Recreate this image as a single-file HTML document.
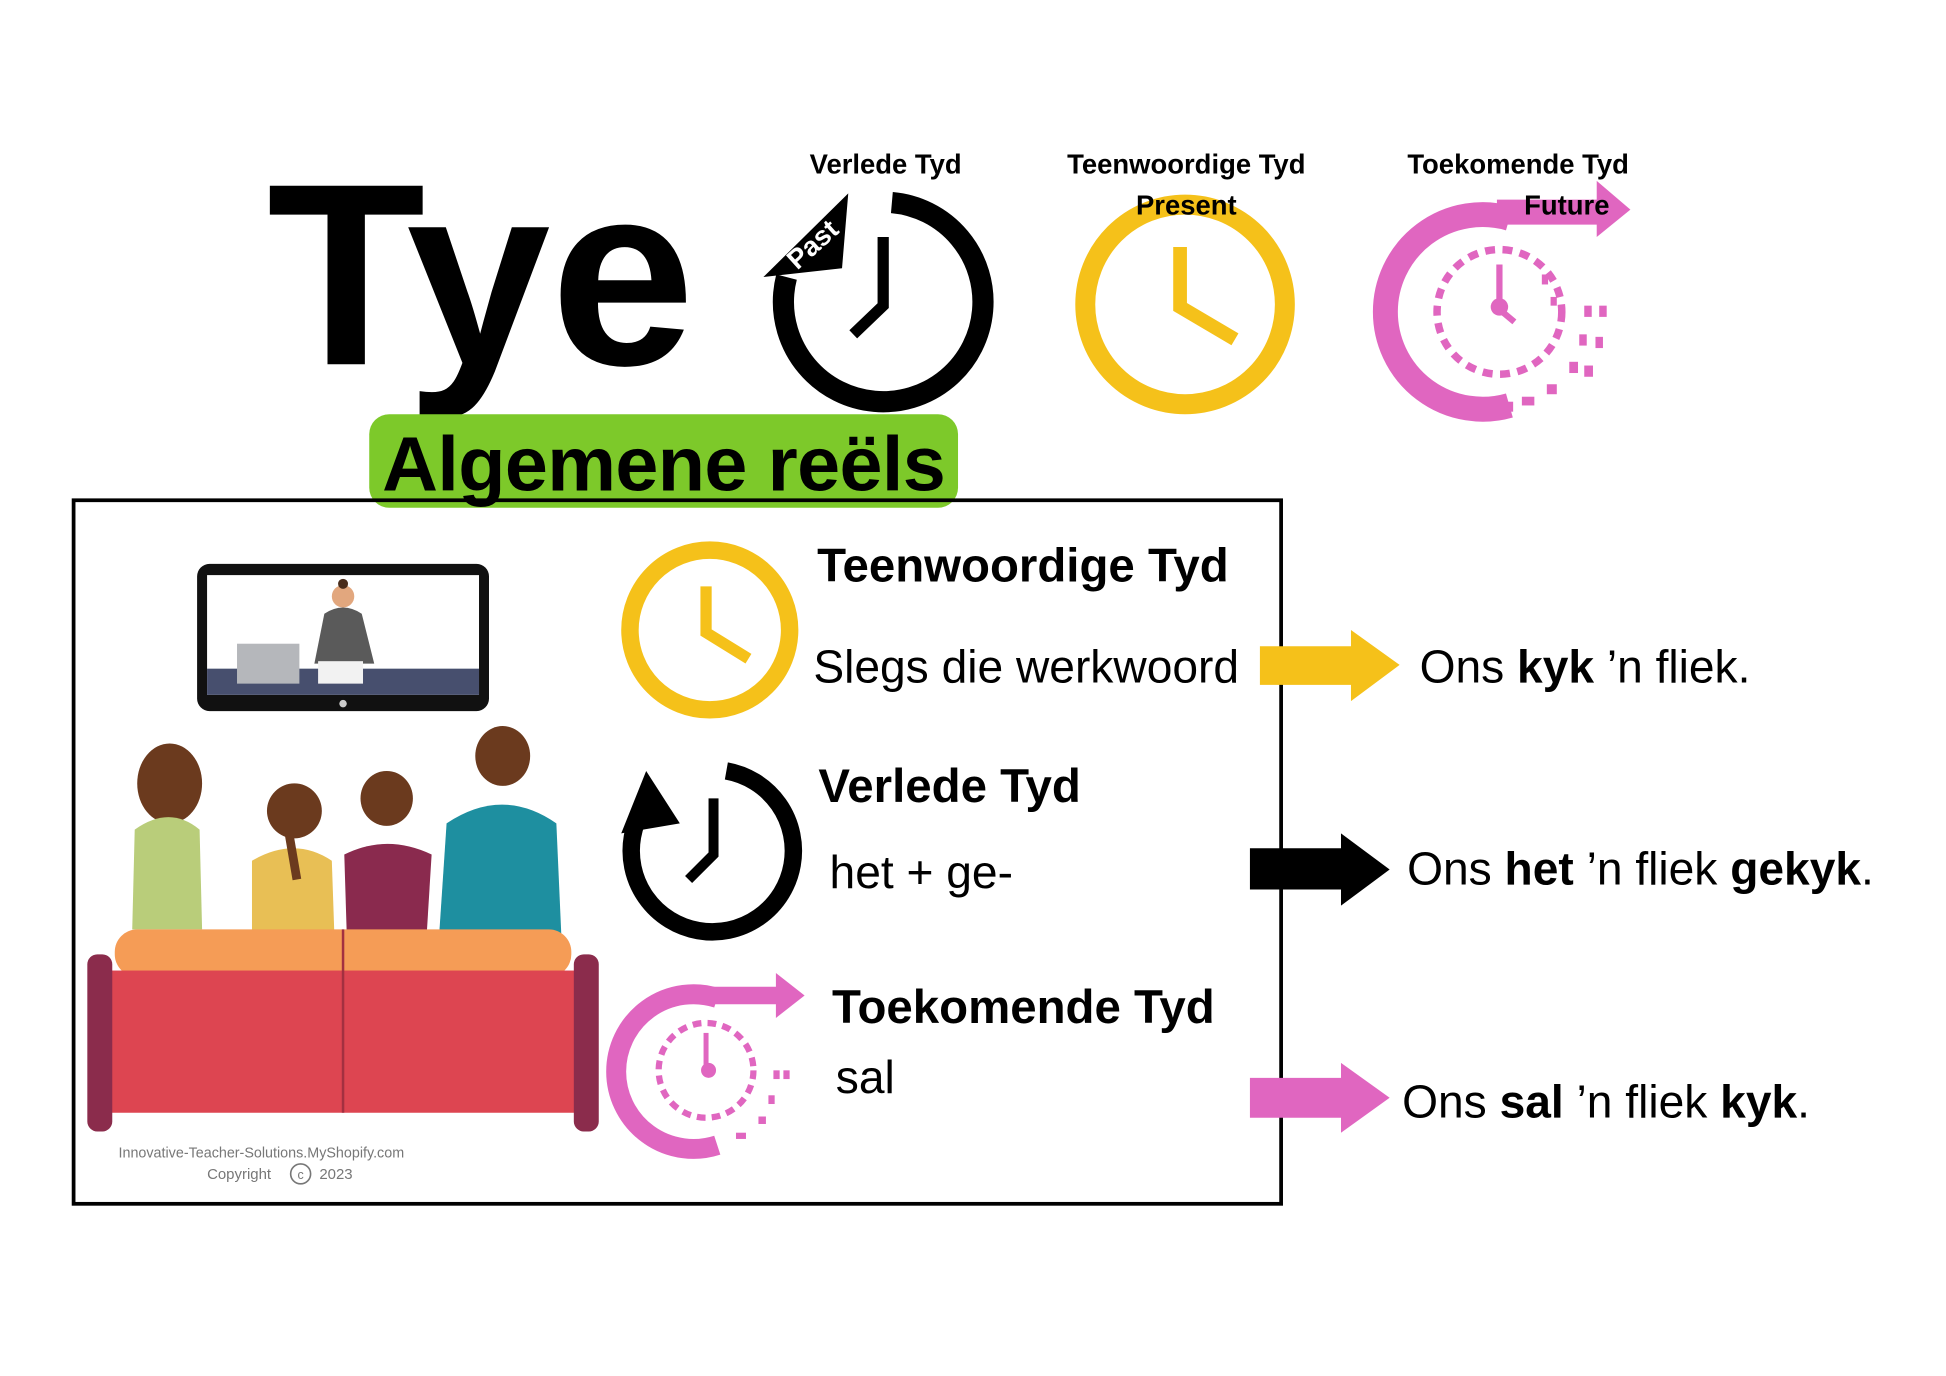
<!DOCTYPE html>
<html><head><meta charset="utf-8"><style>
html,body{margin:0;padding:0;background:#fff;}
svg{display:block;}
text{font-family:"Liberation Sans",sans-serif;}
</style></head><body>
<svg width="1946" height="1376" viewBox="0 0 1560 1103" xmlns="http://www.w3.org/2000/svg">
<rect width="1560" height="1103" fill="#fff"/>
<!-- Title -->
<text x="214" y="292" font-size="208" font-weight="bold" letter-spacing="0" fill="#000">Tye</text>

<!-- Past clock top -->
<circle cx="708" cy="242" r="80" fill="none" stroke="#000" stroke-width="17" stroke-dasharray="390 113" transform="rotate(-85 708 242)"/>
<polygon points="612,222 680,155 675,215" fill="#000"/>
<text x="628" y="212" font-size="22" font-weight="bold" fill="#fff" transform="rotate(-42 640 200)">Past</text>
<path d="M708 190 V245 L684 268" fill="none" stroke="#000" stroke-width="9"/>

<!-- Present clock top -->
<circle cx="950" cy="244" r="80" fill="none" stroke="#F5C11A" stroke-width="16"/>
<path d="M946 198 V246 L990 272" fill="none" stroke="#F5C11A" stroke-width="11"/>

<!-- Future clock top -->
<path d="M1210 175 A78 78 0 1 0 1210 325" fill="none" stroke="#E066C0" stroke-width="20"/>
<path d="M1200 170 H1285" stroke="#E066C0" stroke-width="20"/>
<polygon points="1280,145 1307,168 1280,190" fill="#E066C0"/>
<circle cx="1202" cy="250" r="50" fill="none" stroke="#E066C0" stroke-width="6" stroke-dasharray="8 6"/>
<path d="M1202 212 V248 L1214 258" fill="none" stroke="#E066C0" stroke-width="5"/>
<circle cx="1202" cy="246" r="7" fill="#E066C0"/>
<g fill="#E066C0">
<rect x="1270" y="245" width="6" height="9"/><rect x="1282" y="245" width="6" height="9"/>
<rect x="1266" y="268" width="6" height="9"/><rect x="1279" y="270" width="6" height="9"/>
<rect x="1258" y="290" width="7" height="9"/><rect x="1270" y="293" width="7" height="9"/>
<rect x="1240" y="308" width="8" height="8"/><rect x="1220" y="318" width="10" height="7"/><rect x="1205" y="322" width="8" height="8"/>
<rect x="1236" y="220" width="5" height="8"/><rect x="1243" y="238" width="5" height="7"/>
</g>

<!-- top labels -->
<g font-size="22" font-weight="bold" text-anchor="middle" fill="#000">
<text x="710" y="139">Verlede Tyd</text>
<text x="951" y="139">Teenwoordige Tyd</text>
<text x="951" y="172">Present</text>
<text x="1217" y="139">Toekomende Tyd</text>
<text x="1256" y="172">Future</text>
</g>

<!-- Green pill -->
<rect x="296" y="332" width="472" height="75" rx="16" fill="#7DC92A"/>
<text x="532" y="393" font-size="62" font-weight="bold" text-anchor="middle" fill="#000" letter-spacing="-0.5">Algemene reëls</text>

<!-- Box -->
<rect x="59" y="401" width="968" height="564" fill="none" stroke="#000" stroke-width="3"/>

<!-- TV -->
<rect x="158" y="452" width="234" height="118" rx="10" fill="#111"/>
<rect x="166" y="461" width="218" height="96" fill="#fff"/>
<rect x="166" y="536" width="218" height="21" fill="#474F6E"/>
<rect x="190" y="516" width="50" height="32" fill="#b5b7bb"/>
<path d="M260 492 Q275 482 290 492 L300 532 H252 Z" fill="#5a5a5a"/>
<circle cx="275" cy="478" r="9" fill="#e2a77e"/><circle cx="275" cy="468" r="4" fill="#4a2d1c"/>
<rect x="255" y="530" width="36" height="18" fill="#f2f2f2"/>
<circle cx="275" cy="564" r="3" fill="#ccc"/>

<!-- Family -->
<ellipse cx="136" cy="628" rx="26" ry="32" fill="#6B3A1E"/>
<path d="M108 665 Q136 645 160 665 L162 745 H106 Z" fill="#B9CD7A"/>
<ellipse cx="236" cy="650" rx="22" ry="22" fill="#6B3A1E"/>
<path d="M202 690 Q236 670 266 690 L268 748 H202 Z" fill="#E8BF55"/>
<path d="M232 670 L238 705" stroke="#6B3A1E" stroke-width="7"/>
<ellipse cx="310" cy="640" rx="21" ry="22" fill="#6B3A1E"/>
<path d="M276 685 Q310 668 346 685 L342 750 H278 Z" fill="#8A2A4E"/>
<ellipse cx="403" cy="606" rx="22" ry="24" fill="#6B3A1E"/>
<path d="M358 660 Q403 630 446 660 L450 750 H352 Z" fill="#1E8FA0"/>
<!-- couch -->
<rect x="92" y="745" width="366" height="38" rx="18" fill="#F59C56"/>
<rect x="86" y="778" width="380" height="114" fill="#DD4551"/>
<line x1="275" y1="745" x2="275" y2="892" stroke="#a33040" stroke-width="2"/>
<rect x="70" y="765" width="20" height="142" rx="8" fill="#8B2C4C"/>
<rect x="460" y="765" width="20" height="142" rx="8" fill="#8B2C4C"/>
<text x="95" y="928" font-size="11.5" fill="#777">Innovative-Teacher-Solutions.MyShopify.com</text>
<text x="166" y="945" font-size="12" fill="#777">Copyright</text>
<circle cx="241" cy="941" r="8" fill="none" stroke="#777" stroke-width="1.3"/>
<text x="241" y="945" font-size="10" text-anchor="middle" fill="#777">c</text>
<text x="256" y="945" font-size="12" fill="#777">2023</text>

<!-- box clocks -->
<circle cx="569" cy="505" r="64" fill="none" stroke="#F5C11A" stroke-width="14"/>
<path d="M566 470 V507 L600 528" fill="none" stroke="#F5C11A" stroke-width="9"/>

<circle cx="571" cy="682" r="65" fill="none" stroke="#000" stroke-width="14" stroke-dasharray="320 90" transform="rotate(-80 571 682)"/>
<polygon points="498,668 518,618 545,660" fill="#000"/>
<path d="M572 640 V685 L552 705" fill="none" stroke="#000" stroke-width="8"/>

<path d="M575 800 A62 62 0 1 0 575 918" fill="none" stroke="#E066C0" stroke-width="16"/>
<path d="M565 798 H630" stroke="#E066C0" stroke-width="14"/>
<polygon points="622,780 645,798 622,816" fill="#E066C0"/>
<circle cx="566" cy="858" r="38" fill="none" stroke="#E066C0" stroke-width="5" stroke-dasharray="7 5"/>
<path d="M566 828 V858" stroke="#E066C0" stroke-width="4"/>
<circle cx="568" cy="858" r="6" fill="#E066C0"/>
<g fill="#E066C0"><rect x="620" y="858" width="5" height="7"/><rect x="628" y="858" width="5" height="7"/><rect x="616" y="878" width="5" height="7"/><rect x="608" y="895" width="6" height="6"/><rect x="590" y="908" width="8" height="5"/></g>

<!-- box texts -->
<g fill="#000">
<text x="655" y="466" font-size="38" font-weight="bold">Teenwoordige Tyd</text>
<text x="652" y="547" font-size="37">Slegs die werkwoord</text>
<text x="656" y="643" font-size="38" font-weight="bold">Verlede Tyd</text>
<text x="665" y="712" font-size="37">het + ge-</text>
<text x="667" y="820" font-size="38" font-weight="bold">Toekomende Tyd</text>
<text x="670" y="876" font-size="37">sal</text>
</g>

<!-- arrows -->
<polygon points="1010,518 1083,518 1083,505 1122,533 1083,562 1083,549 1010,549" fill="#F5C11A"/>
<polygon points="1002,680 1075,680 1075,668 1114,697 1075,726 1075,713 1002,713" fill="#000"/>
<polygon points="1002,864 1075,864 1075,852 1114,880 1075,908 1075,896 1002,896" fill="#E066C0"/>

<g fill="#000" font-size="37">
<text x="1138" y="547">Ons <tspan font-weight="bold">kyk</tspan> ’n fliek.</text>
<text x="1128" y="709">Ons <tspan font-weight="bold">het</tspan> ’n fliek <tspan font-weight="bold">gekyk</tspan>.</text>
<text x="1124" y="896">Ons <tspan font-weight="bold">sal</tspan> ’n fliek <tspan font-weight="bold">kyk</tspan>.</text>
</g>
</svg>
</body></html>
